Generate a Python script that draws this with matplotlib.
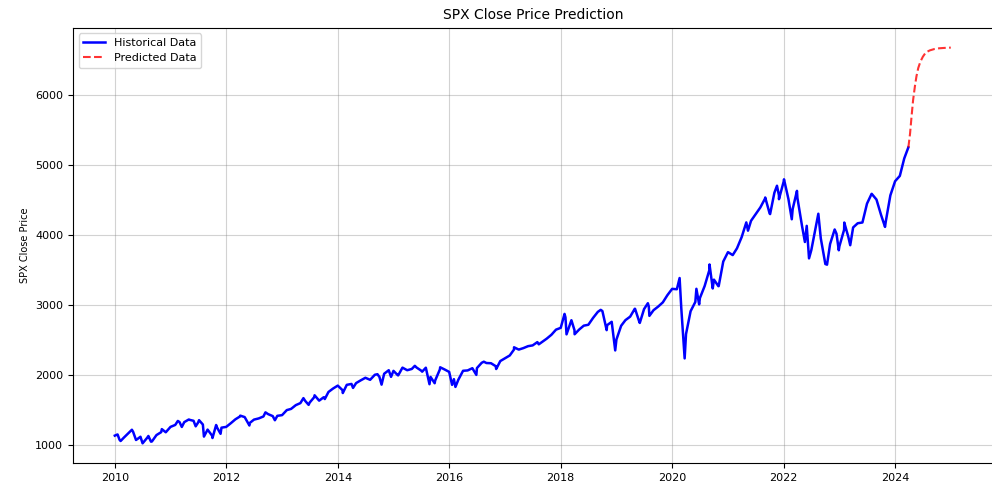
import matplotlib
matplotlib.use("Agg")
import matplotlib.pyplot as plt
import pandas as pd

# Month-start closes (value at the first of each month), Jan 2010 - Mar 2024
monthly_close = [
    1133, 1074, 1104, 1169, 1187, 1089, 1031, 1102, 1049, 1141, 1183, 1181,
    1258, 1286, 1327, 1326, 1364, 1345, 1321, 1292, 1219, 1131, 1253, 1247,
    1258, 1312, 1366, 1408, 1398, 1310, 1362, 1379, 1407, 1441, 1412, 1416,
    1426, 1498, 1515, 1569, 1598, 1631, 1606, 1686, 1633, 1682, 1757, 1806,
    1848, 1783, 1859, 1872, 1884, 1924, 1960, 1931, 2003, 1972, 2018, 2068,
    2059, 1995, 2105, 2068, 2086, 2107, 2063, 2104, 1972, 1920, 2079, 2080,
    2044, 1940, 1932, 2060, 2065, 2097, 2099, 2174, 2171, 2168, 2126, 2199,
    2239, 2279, 2364, 2363, 2384, 2412, 2423, 2470, 2472, 2519, 2575, 2648,
    2674, 2824, 2714, 2641, 2648, 2705, 2718, 2816, 2902, 2914, 2712, 2760,
    2507, 2704, 2784, 2834, 2946, 2752, 2942, 2980, 2926, 2977, 3038, 3141,
    3231, 3226, 2954, 2585, 2912, 3044, 3100, 3271, 3500, 3363, 3270, 3622,
    3756, 3714, 3811, 3973, 4181, 4204, 4298, 4395, 4523, 4308, 4605, 4567,
    4766, 4516, 4374, 4530, 4132, 4132, 3785, 4130, 3955, 3586, 3872, 4080,
    3840, 4077, 3970, 4109, 4169, 4180, 4450, 4589, 4508, 4288, 4194, 4568,
    4770, 4846, 5096,
]
monthly_dates = pd.date_range("2010-01-01", periods=len(monthly_close), freq="MS")

# Intra-month highs and lows
swing_dates = [
    "2010-01-19", "2010-02-08", "2010-04-23", "2010-05-20", "2010-06-18", "2010-07-02",
    "2010-08-09", "2010-08-26", "2010-11-05", "2011-02-18", "2011-03-16", "2011-05-02",
    "2011-06-15", "2011-07-07", "2011-08-08", "2011-10-03", "2011-10-27", "2011-11-25",
    "2012-04-02", "2012-06-01", "2012-09-14", "2012-11-15", "2013-05-21", "2013-06-24",
    "2013-08-02", "2013-10-08", "2014-02-03", "2014-04-11", "2014-09-18", "2014-10-15",
    "2014-12-16", "2015-01-30", "2015-05-21", "2015-07-08", "2015-08-25", "2015-09-28",
    "2015-11-03", "2016-01-20", "2016-02-11", "2016-06-27", "2016-08-15", "2016-11-04",
    "2017-03-01", "2017-08-10", "2018-01-26", "2018-02-08", "2018-03-12", "2018-04-02",
    "2018-09-20", "2018-10-29", "2018-12-24", "2019-05-03", "2019-06-03", "2019-07-26",
    "2019-08-05", "2020-02-19", "2020-03-23", "2020-06-08", "2020-06-26", "2020-09-02",
    "2020-09-23", "2020-10-30", "2021-05-12", "2021-09-02", "2021-10-04", "2021-11-18",
    "2021-12-01", "2022-01-03", "2022-02-23", "2022-03-29", "2022-05-20", "2022-06-16",
    "2022-08-16", "2022-10-12", "2022-12-13", "2022-12-28", "2023-02-02", "2023-03-13",
    "2023-07-31", "2023-10-27", "2024-03-28",
]
swing_close = [
    1150, 1056, 1217, 1071, 1117, 1023,
    1128, 1047, 1226, 1343, 1257, 1361,
    1266, 1354, 1119, 1099, 1285, 1159,
    1419, 1278, 1466, 1353, 1669, 1573,
    1710, 1656, 1742, 1815, 2011, 1862,
    1973, 1995, 2131, 2047, 1868, 1882,
    2110, 1859, 1829, 2001, 2190, 2085,
    2396, 2438, 2873, 2581, 2783, 2582,
    2931, 2641, 2351, 2946, 2744, 3026,
    2845, 3386, 2237, 3232, 3009, 3580,
    3237, 3270, 4063, 4537, 4300, 4705,
    4513, 4797, 4226, 4632, 3901, 3667,
    4305, 3577, 4019, 3783, 4179, 3855,
    4589, 4117, 5254,
]

# Model forecast (red dashed)
pred_dates = [
    "2024-03-28", "2024-04-08", "2024-04-18", "2024-04-28", "2024-05-10", "2024-05-20",
    "2024-06-01", "2024-06-15", "2024-07-01", "2024-07-20", "2024-08-15", "2024-09-15",
    "2024-10-15", "2024-11-15", "2024-12-31",
]
pred_close = [
    5254, 5450, 5700, 5930, 6130, 6270,
    6390, 6480, 6550, 6610, 6640, 6660,
    6670, 6675, 6680,
]

hist = pd.concat([
    pd.Series(monthly_close, index=monthly_dates),
    pd.Series(swing_close, index=pd.to_datetime(swing_dates)),
]).sort_index()
pred = pd.Series(pred_close, index=pd.to_datetime(pred_dates))

fig = plt.figure(figsize=(9.92, 4.88), dpi=100)
ax = fig.add_axes([0.0736, 0.051, 0.927, 0.892])

ax.plot(hist.index, hist.values, color="blue", linewidth=1.8, label="Historical Data")
ax.plot(pred.index, pred.values, color="red", linestyle="--", linewidth=1.5, alpha=0.8,
        label="Predicted Data")

ax.set_title("SPX Close Price Prediction", fontsize=10)
ax.set_ylabel("SPX Close Price", fontsize=7)
ax.tick_params(labelsize=8)
ax.grid(True, color="gray", alpha=0.35, linewidth=0.8)
ax.legend(loc="upper left", fontsize=8)

fig.savefig("out.png", dpi=100)
